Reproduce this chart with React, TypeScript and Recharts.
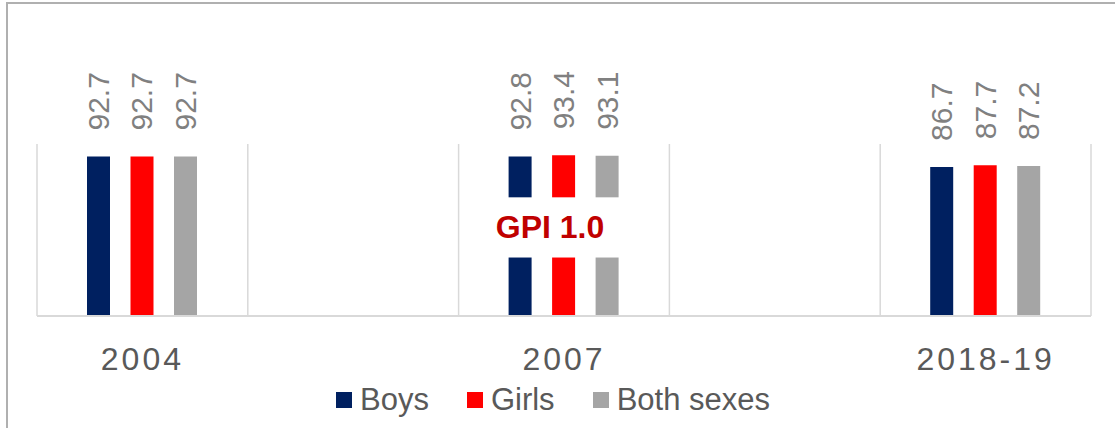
import React from 'react';
import {
  BarChart,
  Bar,
  XAxis,
  YAxis,
  CartesianGrid,
  Legend,
  LabelList,
  ReferenceArea,
} from 'recharts';

// blank categories are spacers between the survey years
const categories = ['2004', ' ', '2007', '  ', '2018-19'];
const boys = [92.7, null, 92.8, null, 86.7];
const girls = [92.7, null, 93.4, null, 87.7];
const bothSexes = [92.7, null, 93.1, null, 87.2];

const seriesNames = ['Boys', 'Girls', 'Both sexes'];
const seriesKeys = ['boys', 'girls', 'both'];
const seriesColors = ['#002060', '#FF0000', '#A5A5A5'];

const gpiLabel = 'GPI 1.0';
const gpiYear = '2007';
const gpiRange = [34, 69];

const FONT = '"Liberation Sans", Arial, sans-serif';

const chartData = categories.map((name, i) => ({
  name,
  boys: boys[i],
  girls: girls[i],
  both: bothSexes[i],
}));

const ValueLabel = (props: any) => {
  const { x, y, width, value } = props;
  if (value == null) return null;
  const cx = Number(x) + Number(width) / 2;
  const cy = Number(y) - 26;
  return (
    <text
      x={cx}
      y={cy}
      transform={`rotate(-90, ${cx}, ${cy})`}
      textAnchor="start"
      dominantBaseline="central"
      fontSize={30}
      fontFamily={FONT}
      fill="#808080"
    >
      {Number(value).toFixed(1)}
    </text>
  );
};

const GpiBox = (props: any) => {
  const { x, y, width, height } = props;
  return (
    <g>
      <rect x={x + 25} y={y} width={width - 50} height={height} fill="#FFFFFF" />
      <text
        x={x + width / 2 - 14}
        y={y + height / 2}
        textAnchor="middle"
        dominantBaseline="central"
        fontSize={32}
        fontWeight={700}
        fontFamily={FONT}
        fill="#C00000"
      >
        {gpiLabel}
      </text>
    </g>
  );
};

const LegendContent = () => (
  <div
    style={{
      display: 'flex',
      justifyContent: 'center',
      alignItems: 'center',
      height: 40,
      marginLeft: -9,
      fontFamily: FONT,
      fontSize: 31,
      color: '#595959',
    }}
  >
    {seriesNames.map((n, i) => (
      <div key={n} style={{ display: 'flex', alignItems: 'center', marginRight: i < 2 ? 38 : 0 }}>
        <span style={{ width: 16, height: 16, background: seriesColors[i], marginRight: 8 }} />
        <span>{n}</span>
      </div>
    ))}
  </div>
);

export default function App() {
  return (
    <div style={{ position: 'absolute', left: 0, top: 0, width: 1115, height: 428, background: '#fff', overflow: 'hidden' }}>
      <div
        style={{
          position: 'absolute',
          left: 6,
          top: 2,
          width: 1200,
          height: 500,
          borderTop: '2px solid #B0B0B0',
          borderLeft: '2px solid #B0B0B0',
        }}
      />
      <div style={{ position: 'absolute', left: 0, top: 0 }}>
        <BarChart
          width={1115}
          height={428}
          data={chartData}
          margin={{ top: 144, right: 24, left: 37, bottom: 8 }}
          barSize={23}
          barGap={20.5}
        >
          <CartesianGrid
            horizontal={false}
            stroke="#D9D9D9"
            strokeWidth={1.5}
            verticalCoordinatesGenerator={({ offset }: any) =>
              categories.concat(['']).map((_, i) => offset.left + (i * offset.width) / categories.length)
            }
          />
          <XAxis
            dataKey="name"
            interval={0}
            height={64}
            tickLine={false}
            tickSize={0}
            tickMargin={31}
            axisLine={{ stroke: '#D9D9D9', strokeWidth: 2 }}
            tick={{ fill: '#595959', fontSize: 32, fontFamily: FONT, letterSpacing: 3 }}
          />
          <YAxis hide domain={[0, 100]} />
          {seriesKeys.map((k, i) => (
            <Bar key={k} dataKey={k} name={seriesNames[i]} fill={seriesColors[i]} isAnimationActive={false}>
              <LabelList dataKey={k} content={ValueLabel} />
            </Bar>
          ))}
          <ReferenceArea
            x1={gpiYear}
            x2={gpiYear}
            y1={gpiRange[0]}
            y2={gpiRange[1]}
            shape={GpiBox}
            ifOverflow="visible"
            {...({ zIndex: 1500 } as any)}
          />
          <Legend verticalAlign="bottom" height={40} content={LegendContent} wrapperStyle={{ left: 0, width: 1115 }} />
        </BarChart>
      </div>
    </div>
  );
}
